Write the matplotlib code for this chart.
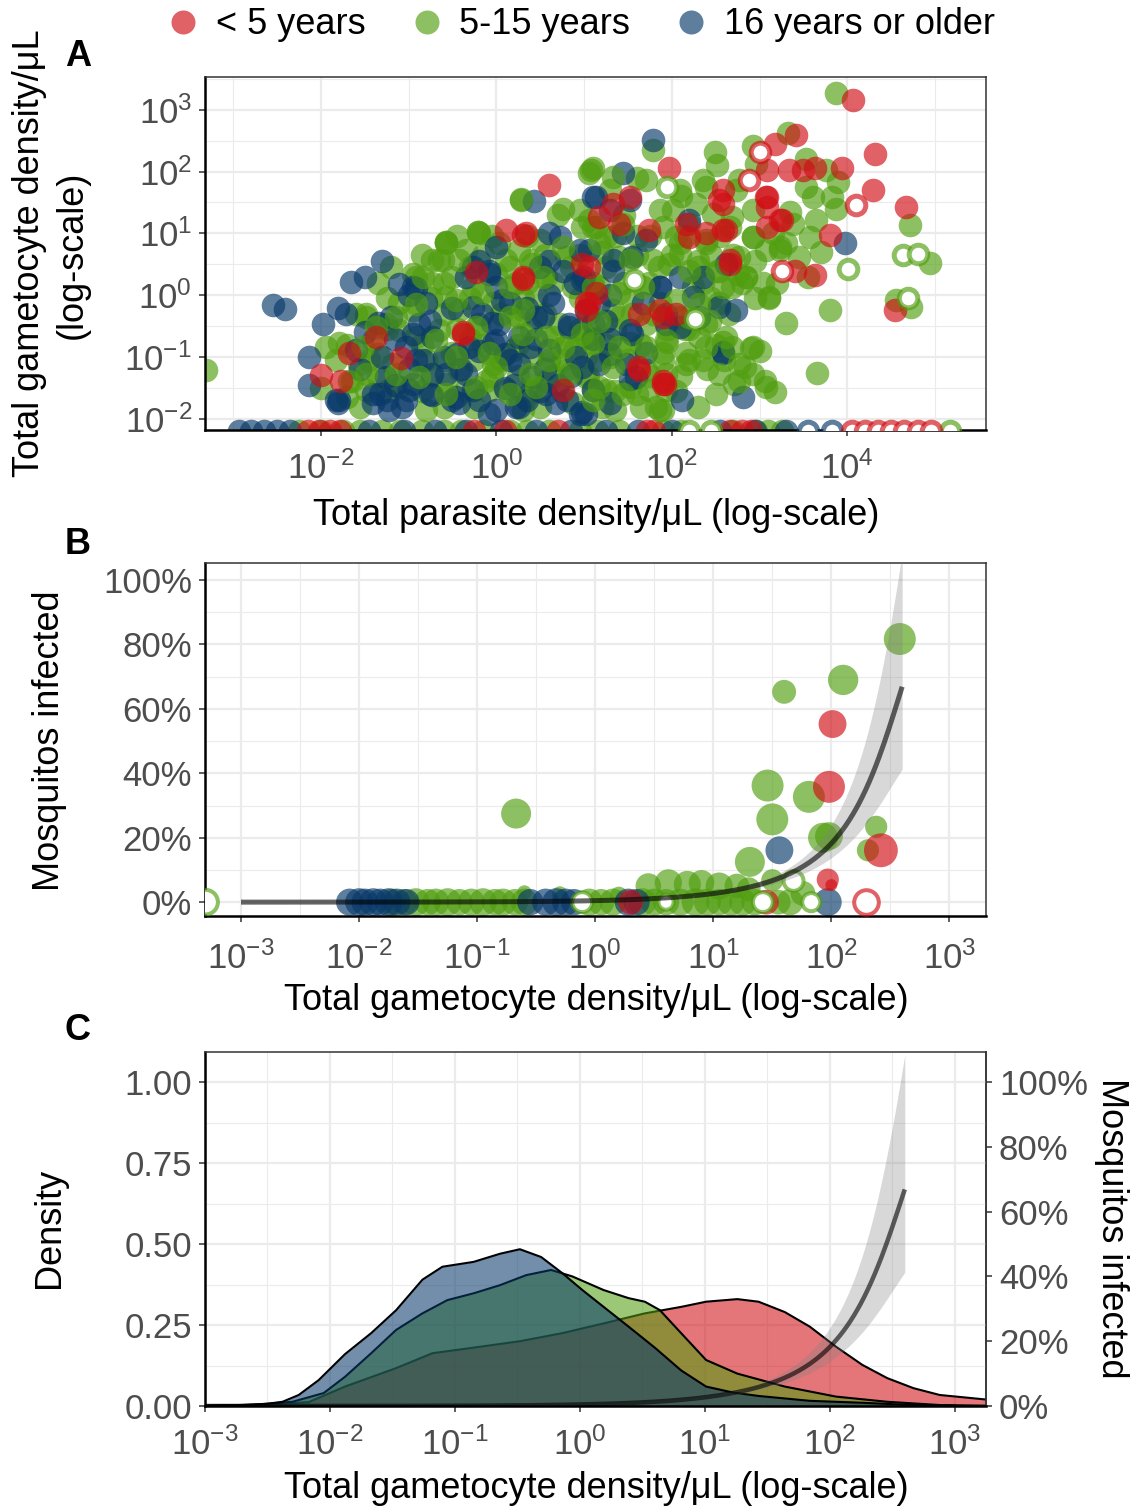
import numpy as np
import matplotlib
matplotlib.use('Agg')
import matplotlib.pyplot as plt
from matplotlib.ticker import FixedLocator, NullFormatter, FixedFormatter
from matplotlib.colors import to_rgba
from matplotlib.lines import Line2D

plt.rcParams['font.family'] = ['Liberation Sans', 'DejaVu Sans']
plt.rcParams['mathtext.fontset'] = 'custom'
plt.rcParams['mathtext.rm'] = 'Liberation Sans'
plt.rcParams['mathtext.it'] = 'Liberation Sans:italic'
plt.rcParams['mathtext.bf'] = 'Liberation Sans:bold'

# ---------------- DATA ----------------
groups = ['< 5 years', '5-15 years', '16 years or older']

# Panel A: (log10 total parasite density, log10 total gametocyte density)
A_blue = [(-0.95,0.14),(-0.80,-0.13),(-0.88,-0.46),(-0.73,-0.67),(-1.03,-0.84),(-0.92,-1.05),(-0.73,-1.27),
          (-0.95,-1.43),(-1.03,-1.70),(-0.73,-1.62),(-0.50,-1.70),(-1.33,-1.59),(-1.41,-1.75),(-1.22,-1.86),
          (-0.27,-0.19),(-0.08,0.40),(0.00,0.14),(0.15,-0.13),(0.03,-0.46),(-0.04,-0.78),(0.26,-0.67),
          (0.45,-0.35),(0.64,-0.13),(0.83,-0.51),(1.02,-0.24),(1.06,0.73),(1.14,1.59),(0.60,1.00),(0.72,0.94),
          (0.26,-1.11),(0.41,-1.32),(0.60,-0.89),(0.00,-1.86),(0.22,-1.81),(0.98,-1.89),(0.68,-1.75),
          (-0.27,-1.54),(-0.42,-1.75),(-1.60,-0.89),(-1.30,-1.00),(-1.83,-1.70),(-1.26,-1.32),
          (-2.55,-0.16),(-2.41,-0.22),(-1.66,0.22),(-1.11,0.18),(-1.98,-0.47),(-1.71,-0.31),(-2.13,-1.00),
          (-2.13,-1.46),(-1.81,-1.75),(0.43,1.53),
          (1.10,1.59),(1.29,1.38),(1.44,1.00),(1.55,0.62),(1.33,0.40),(1.17,-0.13),(1.52,-0.57),(1.67,-0.13),
          (1.86,0.14),(2.09,0.30),(2.24,-0.03),(1.93,-0.46),(1.71,-0.94),(1.48,-1.11),(1.17,-1.11),(1.10,-1.54),
          (2.20,1.21),(2.62,0.51),(2.35,0.30),(2.73,-0.24),(2.31,-0.35),(1.29,-1.75),
          (1.79,2.51),(3.97,0.84),(2.81,-1.65),(2.12,-1.70),(1.52,-1.35),(2.58,-0.92),
          (-1.50,-0.60),(-1.20,-0.35),(-0.60,-1.00),(-0.40,-1.20),(-0.20,-0.90),(0.10,-1.50),(0.50,-1.55),
          (0.85,-1.30),(1.30,-0.70),(0.90,0.20),(0.50,0.45),
          (-0.92,0.11),(-0.76,-0.41),(-0.95,-0.62),(-0.84,-1.05),(-0.57,-1.27),(-0.31,-0.84),(0.00,-0.73),
          (-0.16,-0.30),(0.07,-0.08),(0.38,-0.84),(0.53,-0.35),(0.83,-0.46),(0.76,0.40),(-0.08,0.35),
          (-0.27,0.46),(-0.99,-1.54),(-0.76,-1.59),(-0.46,-1.65),(-1.41,-1.59),(-1.79,-1.70),(-1.07,-1.81),
          (-0.08,-1.92),(0.26,-1.81),(0.57,-1.59),(0.95,-1.92),(0.15,-1.05),(-0.35,-1.27),(0.00,0.78),
          (0.98,0.24),(0.91,-1.00),
          (1.44,1.97),(1.52,1.54),(1.33,0.57),(0.95,0.73),(1.86,0.13),(2.54,-0.19),(1.55,-0.62),(1.25,-0.41),
          (2.09,-0.51),(1.59,-1.32),(2.58,-0.94),(1.02,-1.92),(0.98,-1.16),(1.71,0.89),(1.93,-0.30),
          (-1.30,0.55),(-0.20,0.55),(0.60,0.55),(-1.50,0.30),(-0.35,0.30),(1.00,0.30),(-1.00,0.00),(0.60,0.00),
          (1.30,0.00),(-1.80,-0.20),(-0.50,-0.20),(0.35,-0.20),(-1.35,-0.45),(-0.05,-0.45),(1.10,-0.45),
          (-1.15,-0.70),(0.45,-0.70),(1.10,-0.70),(-0.45,-0.95),(0.10,-0.95),(1.30,-0.95),(-1.55,-1.20),
          (-1.00,-1.20),(0.55,-1.20),(-1.15,-1.45),(0.20,-1.45),(0.70,-1.45),(-1.25,-1.70),(-0.20,-1.70),
          (0.35,-1.70),(0.80,-1.70)]
A_green = [(-1.49,-0.30),(-1.41,-0.73),(-1.26,-0.46),(-1.11,-0.13),(-0.95,0.35),(-0.73,0.57),(-0.57,0.84),
           (-0.35,0.73),(-0.20,1.00),(0.03,0.84),(0.26,0.73),(0.41,0.51),(0.57,0.30),(0.79,0.62),(0.95,1.38),
           (1.10,1.11),(0.87,0.13),(0.72,-0.46),(0.45,-0.03),(0.22,0.19),(0.11,0.57),(-0.04,-0.13),
           (-0.20,-0.46),(-0.42,-0.24),(-0.57,-0.03),(-0.73,0.19),(-0.50,0.30),(-0.27,0.14),(-0.04,-1.11),
           (-0.27,-1.05),(-0.50,-0.94),(-0.65,-0.57),(-1.11,-0.57),(-1.18,-1.11),(-1.56,-1.11),(-1.64,-1.38),
           (-1.49,-1.54),(-1.11,-1.48),(-0.80,-1.86),(-0.57,-1.43),(-0.35,-1.54),(-0.12,-1.38),(0.11,-1.54),
           (0.34,-1.65),(0.57,-1.38),(0.79,-1.21),(1.02,-1.00),(1.10,-1.54),(0.87,-1.75),(0.41,-1.00),
           (0.19,-0.89),(0.64,-0.67),(1.02,-0.67),(1.10,0.19),(0.26,-0.35),(-0.42,-1.21),(-0.92,-0.67),
           (-1.79,-0.78),(-1.94,-0.84),(-0.95,-0.24),
           (-3.31,-1.21),(0.28,1.54),(1.08,2.02),(-0.21,1.02),(-0.57,0.86),(-0.61,0.57),(-0.92,0.30),(-1.49,-0.35),
           (1.06,1.21),(1.25,0.94),(1.40,0.62),(1.17,0.14),(1.33,-0.24),(1.10,-0.67),(1.29,-1.00),(1.02,-1.32),
           (1.25,-1.54),(1.52,-0.78),(1.71,-0.46),(1.86,-0.13),(1.74,0.19),(1.97,0.51),(2.09,0.84),(2.20,1.16),
           (2.01,1.38),(2.28,1.48),(2.47,1.32),(2.39,0.84),(2.54,0.40),(2.69,0.14),(2.77,0.62),(2.92,0.94),
           (3.07,0.73),(3.30,0.84),(3.45,0.62),(3.57,0.94),(3.64,1.21),(3.38,1.16),(2.92,1.38),(2.66,1.11),
           (2.24,0.14),(2.09,-0.35),(2.31,-0.67),(2.54,-0.13),(1.90,-0.94),(2.16,-1.11),(1.71,-1.21),
           (1.52,-1.48),(1.93,-1.54),(1.82,-1.81),(2.39,-0.46),(2.85,0.30),(3.04,0.19),(3.23,0.73),(3.53,1.75),
           (3.76,2.02),(3.83,1.59),(2.73,1.70),(2.96,2.13),(2.35,1.86),
           (3.87,3.27),(3.32,2.62),(2.92,2.41),(1.79,2.35),(2.49,2.32),(2.51,2.10),(1.10,2.05),(3.53,2.21),
           (3.89,1.83),(3.61,1.59),(3.87,1.40),(4.71,1.13),(4.94,0.52),(3.11,-0.05),(3.80,-0.24),(4.56,-0.08),
           (4.73,-0.19),(2.90,-0.86),(2.83,-1.16),(2.71,-1.43),(3.06,-1.38),(3.17,-1.56),(3.65,-1.26),
           (1.90,-1.86),(2.58,-0.76),
           (0.50,0.90),(0.70,1.30),(1.30,1.70),(1.60,1.90),(1.45,1.30),(1.60,0.95),(1.90,1.10),(2.10,1.60),
           (2.30,0.55),(2.55,0.95),(2.75,0.35),(2.95,0.55),(3.15,1.00),(3.35,1.35),(3.20,0.20),(1.95,-0.75),
           (2.15,-0.55),(1.40,-0.35),(1.20,0.70),(0.00,0.35),(-0.30,-0.70),(-0.80,-1.05),(-1.35,-0.95),
           (0.60,-1.05),(0.90,-0.85),(1.60,-1.60),(2.40,-1.20),(2.50,-1.60),(3.00,-0.90),(3.30,-0.45),
           (3.55,0.30),(3.70,0.70),(-1.70,-1.65),(-2.00,-1.50),(0.30,-1.85),(1.35,-1.85),
           (-0.45,0.95),(-0.05,0.95),(0.35,0.95),(1.35,0.95),(1.75,0.95),(2.15,0.95),
           (-0.85,0.65),(-0.15,0.65),(0.55,0.65),(0.95,0.65),(1.60,0.65),(2.00,0.65),(2.45,0.65),(2.70,0.65),
           (-1.20,0.45),(-0.30,0.45),(0.15,0.45),(0.85,0.45),(1.25,0.45),(1.85,0.45),(2.30,0.45),
           (-1.35,0.20),(-0.60,0.20),(0.35,0.20),(0.65,0.20),(1.45,0.20),(2.35,0.20),(2.80,0.20),
           (-1.25,-0.05),(-0.75,-0.05),(-0.30,-0.05),(0.30,-0.05),(0.95,-0.05),(1.55,-0.05),(2.45,-0.05),
           (2.95,-0.05),(-1.60,-0.30),(-0.60,-0.30),(0.05,-0.30),(0.55,-0.30),(1.05,-0.30),(1.55,-0.30),
           (2.65,-0.30),(-1.25,-0.55),(-0.45,-0.55),(0.40,-0.55),(0.95,-0.55),(1.35,-0.55),(1.95,-0.55),
           (2.20,-0.55),(-1.70,-0.80),(-0.85,-0.80),(-0.15,-0.80),(0.25,-0.80),(0.80,-0.80),(1.25,-0.80),
           (1.65,-0.80),(2.50,-0.80),(-1.45,-1.05),(-0.60,-1.05),(0.05,-1.05),(0.75,-1.05),(1.15,-1.05),
           (1.50,-1.05),(2.35,-1.05),(2.60,-1.05),(-1.35,-1.30),(-0.75,-1.30),(-0.05,-1.30),(0.25,-1.30),
           (0.65,-1.30),(1.05,-1.30),(1.75,-1.30),(2.10,-1.30),(-1.25,-1.55),(-0.85,-1.55),(-0.10,-1.55),
           (0.40,-1.55),(0.75,-1.55),(1.35,-1.55),(2.05,-1.55),(-1.55,-1.80),(-0.60,-1.80),(-0.25,-1.80),
           (0.50,-1.80),(1.20,-1.80),(1.65,-1.80),(2.30,-1.80)]
# green points of the densest core, drawn above the blue ones
A_green_core = [(-0.57,0.86),(-0.21,1.02),(0.28,1.56),(0.76,1.40),(-0.84,0.30),(-0.65,0.57),(-0.42,0.57),
                (-0.46,-0.08),(-0.16,0.03),(0.15,0.13),(0.38,0.57),(0.53,0.30),(0.76,0.78),(0.98,1.11),
                (-1.52,-0.84),(-1.14,-0.35),(-1.37,-0.51),(-0.69,-0.73),(-0.46,-1.00),(-0.23,-0.51),(0.15,-0.35),
                (0.30,-0.24),(0.60,-1.05),(0.83,-1.27),(0.38,-1.27),(0.00,-1.16),(-0.23,-1.48),(-0.57,-1.59),
                (-0.88,-1.32),(-1.14,-1.27),(-1.49,-1.27),(-1.68,-1.38),(-1.83,-1.05),(-0.92,-0.14),(0.15,-1.59),
                (0.45,-1.48),(0.76,-0.84),(0.98,-0.62),(0.57,-0.68),(-0.08,-0.94),(0.30,-0.62),
                (1.06,1.97),(1.33,1.91),(1.71,1.86),(2.09,1.70),(2.39,1.75),(2.77,1.86),(1.14,1.10),(1.44,1.16),
                (1.86,1.38),(2.05,0.94),(2.39,0.89),(2.69,1.27),(2.92,0.94),(3.23,0.78),(1.17,0.84),(1.52,0.57),
                (1.78,0.57),(2.09,0.67),(2.20,0.40),(2.51,0.40),(2.85,0.30),(3.11,-0.03),(1.10,0.13),(1.40,0.03),
                (1.67,0.13),(2.05,-0.08),(2.31,-0.14),(2.58,0.13),(1.17,-0.41),(1.40,-0.84),(1.78,-0.30),
                (1.93,-0.73),(2.20,-0.35),(2.43,-0.41),(2.62,-0.67),(2.92,-0.84),(1.10,-0.78),(1.33,-1.16),
                (1.71,-0.84),(1.90,-1.05),(2.16,-0.94),(2.39,-0.84),(2.69,-0.84),(2.77,-1.11),(1.17,-1.48),
                (1.44,-1.59),(1.74,-1.54),(1.93,-1.27),(2.20,-1.05),(2.54,-1.27),(2.92,-1.27),(3.07,-1.48),
                (2.77,-1.38),(1.86,-1.86),(1.10,-1.70)]
A_red = [(-2.00,-1.29),(-1.77,-1.38),(-1.37,-0.67),(-1.68,-0.94),(-1.09,-1.02),(-0.38,-0.59),(0.60,1.78),
         (0.11,1.05),(0.34,1.00),(-0.23,0.38),(0.30,0.27),(0.98,0.51),(1.06,-0.13),(0.76,-1.54),
         (1.06,0.46),(1.33,1.48),(1.52,1.59),(1.74,1.05),(2.16,1.16),(2.20,0.94),(2.39,1.00),(2.58,1.05),
         (2.66,0.51),(1.86,-0.24),(2.05,-0.30),(1.63,-1.21),(1.90,-1.43),(1.02,-0.13),(1.40,1.16),
         (4.07,3.16),(3.42,2.59),(3.17,2.45),(4.31,2.28),(1.97,2.05),(3.09,2.02),(3.34,2.02),(3.49,2.02),
         (3.63,2.05),(3.94,2.05),(4.29,1.70),(4.67,1.43),(2.58,1.70),(2.58,1.48),(3.09,1.59),(3.08,1.43),
         (3.26,1.21),(3.08,1.11),(3.80,0.97),(3.40,0.40),(3.63,0.32),(4.54,-0.24),(1.92,-1.43),(1.62,-1.16),
         (0.30,0.97),(-0.38,-0.62),(0.30,0.30),(1.02,-0.24),(1.17,1.27),(1.14,0.03),(2.54,1.54),(2.62,1.05),
         (3.07,1.59),(3.23,1.21),(2.66,0.57),(1.63,-0.30),(1.90,-0.35),(1.90,-1.38)]
# hollow points (white centre)
A_green_open = [(1.95,1.75),(1.57,0.24),(2.26,-0.39),(4.63,0.65),(4.80,0.67),(4.01,0.43),(4.69,-0.05)]
A_red_open = [(2.88,1.86),(3.00,2.32),(4.10,1.46),(3.26,0.40)]
# zero gametocytes (log10 parasite density)
A_blue_zero = [-2.93,-2.80,-2.65,-2.50,-2.35,-1.45,-1.05,-0.70,-0.35,0.05,0.45,0.85,1.25,1.62,2.00,2.55,2.95,3.30]
A_green_zero = [-2.25,-2.00,-1.75,-1.55,-1.30,-1.10,-0.85,-0.60,-0.40,-0.15,0.15,0.35,0.60,0.95,1.15,1.40,
                1.90,2.10,2.70,2.96,3.10,3.26]
A_red_zero = [-2.15,-2.02,-1.90,-1.78,-0.25,0.10,0.70,1.72,1.80,2.66,2.80,2.90]
A_green_zero_open = [2.20,2.45,5.17]
A_blue_zero_open = [3.55,3.82]
A_red_zero_open = [4.05,4.20,4.35,4.50,4.65,4.80,4.95]

# Panel B: (log10 gametocyte density, % mosquitoes infected, mosquitoes dissected)
B_green = [(2.58,81.7,50),(2.10,69.0,45),(1.60,65.3,28),(1.81,32.7,50),(1.46,36.2,50),(1.50,25.7,50),
           (1.93,20.0,44),(1.98,20.5,38),(1.31,12.5,44),(2.38,23.4,24),(2.31,16.1,24),(1.50,6.8,24),
           (-0.67,27.5,44),
           (0.45,5.0,32),(0.62,6.0,36),(0.78,5.5,36),(0.90,6.0,32),(1.05,5.0,36),(1.20,5.0,30),(1.30,4.0,28),
           (-0.60,3.0,10),(-0.30,2.5,12),(0.20,2.0,16),(1.76,2.7,30),
           (-1.72,0,36),(-1.62,0,34),(-1.52,0,38),(-1.42,0,34),(-1.35,0,36),(-1.25,0,38),(-1.15,0,34),
           (-1.05,0,36),(-0.95,0,38),(-0.85,0,34),(-0.78,0,36),(-0.68,0,34),(-0.60,0,36),(-0.05,0,36),
           (0.05,0,34),(0.15,0,36),(0.40,0,38),(0.50,0,36),(0.60,0,34),(0.72,0,36),(0.85,0,38),(0.95,0,36),
           (1.05,0,34),(1.15,0,36),(1.25,0,36),(1.35,0,34),(1.55,0,30),(1.65,0,34)]
B_red = [(2.01,55.3,38),(1.98,35.8,50),(2.42,16.1,56),(1.97,7.0,24),(2.00,5.3,7),(0.30,0,30),(1.45,0,30)]
B_blue = [(1.56,16.1,38),(1.97,0,38),
          (-2.08,0,36),(-2.00,0,38),(-1.95,0,36),(-1.88,0,38),(-1.82,0,36),(-1.75,0,38),(-1.68,0,36),
          (-1.60,0,34),(-0.55,0,34),(-0.42,0,36),(-0.33,0,38),(-0.25,0,36),(-0.18,0,34),(0.28,0,36),(0.35,0,34)]
B_green_open = [(1.68,6.6,28),(1.83,0,24),(1.42,0,28),(-0.11,0,28),(0.60,0,18),(-3.30,0,40)]
B_red_open = [(2.29,0,40)]

# Fitted infection model (logit scale)
fit_intercept, fit_log_slope, fit_lin_slope = -5.37, 1.74, 0.00389
fit_range_log10 = (-3.0, 2.6)

# Panel C: density of log10 gametocyte density per group
C_blue_x = [-3.0,-2.7,-2.5,-2.38,-2.25,-2.09,-1.88,-1.67,-1.47,-1.26,-1.10,-0.85,-0.64,-0.48,-0.31,-0.14,
            0.02,0.19,0.39,0.60,0.81,1.01,1.22,1.43,1.84,2.26,2.6,3.0]
C_blue_y = [0.001,0.003,0.007,0.013,0.034,0.08,0.16,0.225,0.296,0.39,0.43,0.445,0.47,0.484,0.46,0.41,
            0.358,0.306,0.245,0.18,0.11,0.06,0.042,0.031,0.016,0.01,0.004,0.001]
C_green_x = [-3.0,-2.6,-2.30,-2.05,-1.88,-1.67,-1.47,-1.26,-1.06,-0.85,-0.64,-0.43,-0.23,-0.06,0.19,0.39,
             0.52,0.64,0.81,1.01,1.26,1.64,2.05,2.46,2.88,3.25]
C_green_y = [0.001,0.004,0.013,0.04,0.09,0.163,0.235,0.286,0.327,0.348,0.373,0.404,0.42,0.40,0.358,0.333,
             0.322,0.296,0.225,0.142,0.10,0.06,0.029,0.013,0.003,0.001]
C_red_x = [-3.0,-2.5,-2.17,-1.88,-1.47,-1.18,-0.93,-0.48,-0.14,0.19,0.52,0.81,1.01,1.26,1.43,1.64,1.84,2.05,
           2.26,2.46,2.67,2.88,3.25]
C_red_y = [0.001,0.004,0.012,0.06,0.117,0.163,0.176,0.20,0.225,0.255,0.286,0.306,0.322,0.33,0.322,0.29,0.245,
           0.183,0.127,0.086,0.055,0.034,0.02]

# ---------------- STYLE ----------------
COL = {'< 5 years': '#D00E14', '5-15 years': '#509E0F', '16 years or older': '#08396A'}
PT_ALPHA = 0.65
FILL_ALPHA = 0.57
GRID = '#EBEBEB'
TICKC = '#4D4D4D'
FS = 25
W, H = 1131, 1510
PX = 72.0 / 100.0  # points per pixel

fig = plt.figure(figsize=(W / 100, H / 100), dpi=100)


def ax_at(l, t, r, b):
    return fig.add_axes([l / W, 1 - b / H, (r - l) / W, (b - t) / H])


axA = ax_at(205, 77, 986, 430)
axB = ax_at(205, 563, 986, 916)
axC = ax_at(205, 1052, 986, 1406)


def style(ax, xmaj, xmin, ymaj, ymin, xlab, ylab, xpad=5):
    ax.xaxis.set_major_locator(FixedLocator(xmaj))
    ax.xaxis.set_minor_locator(FixedLocator(xmin))
    ax.yaxis.set_major_locator(FixedLocator(ymaj))
    ax.yaxis.set_minor_locator(FixedLocator(ymin))
    ax.xaxis.set_major_formatter(FixedFormatter(xlab))
    ax.yaxis.set_major_formatter(FixedFormatter(ylab))
    ax.xaxis.set_minor_formatter(NullFormatter())
    ax.yaxis.set_minor_formatter(NullFormatter())
    ax.grid(which='major', color=GRID, lw=1.6, zorder=0)
    ax.grid(which='minor', color=GRID, lw=0.8, zorder=0)
    ax.set_axisbelow(True)
    ax.tick_params(which='major', length=6 * PX, width=1.1, color='#333333',
                   labelsize=FS, labelcolor=TICKC, pad=5)
    ax.tick_params(axis='x', which='major', pad=xpad)
    ax.tick_params(which='minor', length=0)
    for s in ['top', 'right']:
        ax.spines[s].set_color('#333333')
        ax.spines[s].set_linewidth(1.1)
    for s in ['left', 'bottom']:
        ax.spines[s].set_color('black')
        ax.spines[s].set_linewidth(1.8)


def pw(e):
    return r'$\mathregular{10^{%d}}$' % e


def rad_px(n):
    return 2.26 * np.sqrt(n)


def xy(pts):
    return 10 ** np.array([p[0] for p in pts]), 10 ** np.array([p[1] for p in pts])


# ---------------- PANEL A ----------------
axA.set_xscale('log')
axA.set_yscale('log')
axA.set_xlim(10 ** -3.32, 10 ** 5.58)
axA.set_ylim(10 ** -2.18, 10 ** 3.53)
zero_y = 10 ** -2.2
sA = (2 * 11.8 * PX) ** 2
sA_ring = (2 * 9.3 * PX) ** 2
ring_lw = 5.0 * PX

for name, zeros in [('5-15 years', A_green_zero), ('16 years or older', A_blue_zero), ('< 5 years', A_red_zero)]:
    axA.scatter(10 ** np.array(zeros), np.full(len(zeros), zero_y), s=sA,
                color=to_rgba(COL[name], PT_ALPHA), lw=0, zorder=2)
for name, pts in [('5-15 years', A_green), ('16 years or older', A_blue), ('5-15 years', A_green_core),
                  ('< 5 years', A_red)]:
    x, y = xy(pts)
    axA.scatter(x, y, s=sA, color=to_rgba(COL[name], PT_ALPHA), lw=0, zorder=2)

for name, pts in [('5-15 years', A_green_open), ('< 5 years', A_red_open)]:
    x, y = xy(pts)
    axA.scatter(x, y, s=sA_ring, facecolor='white', edgecolor=to_rgba(COL[name], PT_ALPHA), lw=ring_lw, zorder=3)
for name, zeros in [('5-15 years', A_green_zero_open), ('16 years or older', A_blue_zero_open),
                    ('< 5 years', A_red_zero_open)]:
    axA.scatter(10 ** np.array(zeros), np.full(len(zeros), zero_y), s=sA_ring, facecolor='white',
                edgecolor=to_rgba(COL[name], PT_ALPHA), lw=ring_lw, zorder=3)

style(axA, [1e-2, 1, 1e2, 1e4], [1e-3, 1e-1, 10, 1e3, 1e5],
      [10.0 ** e for e in range(-2, 4)], [10.0 ** (e + 0.5) for e in range(-3, 4)],
      [pw(e) for e in [-2, 0, 2, 4]], [pw(e) for e in range(-2, 4)], xpad=11)

# ---------------- PANEL B ----------------
axB.set_xscale('log')
axB.set_xlim(10 ** -3.305, 10 ** 3.31)
axB.set_ylim(-4.3, 105.3)


def fit_p(g):
    z = fit_intercept + fit_log_slope * np.log10(g) + fit_lin_slope * g
    return 1 / (1 + np.exp(-z))


def ci_d(g):
    L = np.log10(g)
    return 0.15 + 0.13 * np.clip(L - 1, 0, None) ** 2


gg = np.logspace(fit_range_log10[0], fit_range_log10[1], 400)
pp = fit_p(gg)
lo = pp * np.exp(-ci_d(gg))
hi = pp * np.exp(ci_d(gg))

for name, pts in [('5-15 years', B_green), ('16 years or older', B_blue), ('< 5 years', B_red)]:
    lx = np.array([p[0] for p in pts]); yv = np.array([p[1] for p in pts]); n = np.array([p[2] for p in pts])
    axB.scatter(10 ** lx, yv, s=(2 * rad_px(n) * PX) ** 2, color=to_rgba(COL[name], PT_ALPHA), lw=0, zorder=2)
for name, pts in [('5-15 years', B_green_open), ('< 5 years', B_red_open)]:
    lx = np.array([p[0] for p in pts]); yv = np.array([p[1] for p in pts]); n = np.array([p[2] for p in pts])
    axB.scatter(10 ** lx, yv, s=(2 * (rad_px(n) - 2.0) * PX) ** 2, facecolor='white',
                edgecolor=to_rgba(COL[name], PT_ALPHA), lw=4.0 * PX, zorder=3)

axB.fill_between(gg, lo * 100, hi * 100, color='gray', alpha=0.3, lw=0, zorder=4)
axB.plot(gg, pp * 100, color='black', alpha=0.6, lw=5 * PX, zorder=5, solid_capstyle='butt')

style(axB, [10.0 ** e for e in range(-3, 4)], [10.0 ** (e + 0.5) for e in range(-4, 4)],
      [0, 20, 40, 60, 80, 100], [10, 30, 50, 70, 90],
      [pw(e) for e in range(-3, 4)], ['0%', '20%', '40%', '60%', '80%', '100%'], xpad=14)

# ---------------- PANEL C ----------------
axC.set_xscale('log')
axC.set_xlim(10 ** -3.0, 10 ** 3.25)
axC.set_ylim(0, 1.093)
for name, xs, ys in [('< 5 years', C_red_x, C_red_y), ('5-15 years', C_green_x, C_green_y),
                     ('16 years or older', C_blue_x, C_blue_y)]:
    xx = 10 ** np.array(xs)
    axC.fill_between(xx, 0, ys, color=COL[name], alpha=FILL_ALPHA, lw=0, zorder=2)
    axC.plot(xx, ys, color='black', lw=1.5, zorder=2, solid_joinstyle='round')
axC.fill_between(gg, lo, hi, color='gray', alpha=0.3, lw=0, zorder=4)
axC.plot(gg, pp, color='black', alpha=0.6, lw=4.5 * PX, zorder=5, solid_capstyle='butt')

style(axC, [10.0 ** e for e in range(-3, 4)], [10.0 ** (e + 0.5) for e in range(-3, 3)],
      [0, 0.25, 0.5, 0.75, 1.0], [0.125, 0.375, 0.625, 0.875],
      [pw(e) for e in range(-3, 4)], ['0.00', '0.25', '0.50', '0.75', '1.00'], xpad=11)
sec = axC.secondary_yaxis('right')
sec.set_yticks([0, 0.2, 0.4, 0.6, 0.8, 1.0])
sec.set_yticklabels(['0%', '20%', '40%', '60%', '80%', '100%'])
sec.tick_params(length=6 * PX, width=1.1, color='#333333', labelsize=FS, labelcolor=TICKC, pad=5)
sec.spines['right'].set_color('#333333')
sec.spines['right'].set_linewidth(1.1)

# ---------------- TEXT ----------------
TS = 26


def ftext(x, y, s, **kw):
    fig.text(x / W, 1 - y / H, s, ha='center', va='center', fontsize=TS, **kw)


ftext(78, 57, 'A', fontweight='bold')
ftext(78, 545, 'B', fontweight='bold')
ftext(78, 1030, 'C', fontweight='bold')
ftext(30, 253, 'Total gametocyte density/μL', rotation=90)
ftext(72, 255, '(log-scale)', rotation=90)
ftext(596, 515, 'Total parasite density/μL (log-scale)')
ftext(50, 741, 'Mosquitos infected', rotation=90)
ftext(596, 1000, 'Total gametocyte density/μL (log-scale)')
ftext(50, 1228, 'Density', rotation=90)
ftext(1112, 1228, 'Mosquitos infected', rotation=270)
ftext(596, 1488, 'Total gametocyte density/μL (log-scale)')

handles = [Line2D([], [], ls='none', marker='o', markersize=2 * 12 * PX, markeredgewidth=0,
                  color=to_rgba(COL[g], PT_ALPHA)) for g in groups]
fig.legend(handles, groups, loc='center', bbox_to_anchor=(580 / W, 1 - 25 / H), ncol=3, frameon=False,
           fontsize=TS, handletextpad=0.4, columnspacing=1.2, handlelength=1.0)

fig.savefig('out.png', dpi=100)
